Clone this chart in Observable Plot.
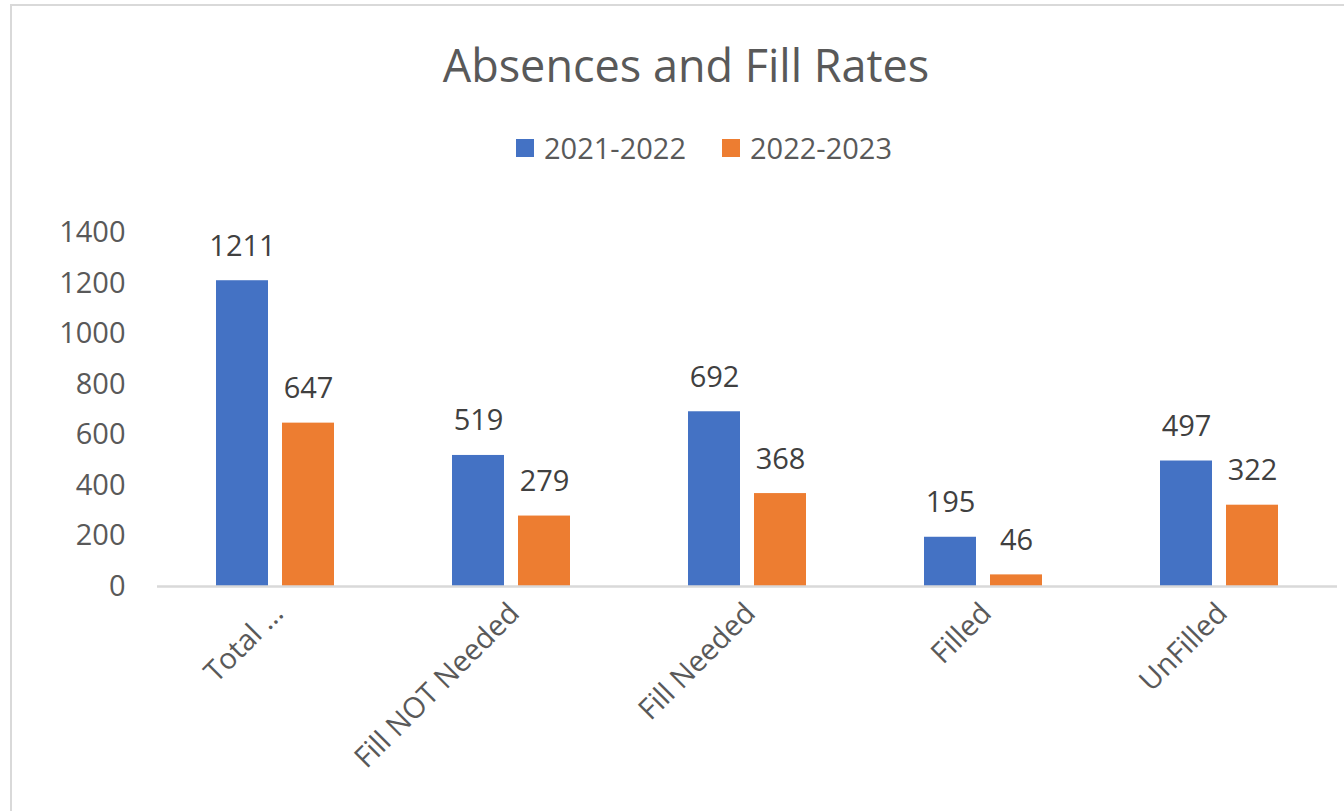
<!DOCTYPE html>
<html>
<head>
<meta charset="utf-8">
<script src="https://cdn.jsdelivr.net/npm/d3@7"></script>
<script src="https://cdn.jsdelivr.net/npm/@observablehq/plot@0.6"></script>
<style>
  html, body { margin: 0; padding: 0; background: #fff; width: 1344px; height: 811px; overflow: hidden; position: relative; font-family: "Open Sans", sans-serif; }
  #frame { position: absolute; left: 10px; top: 4px; width: 1400px; height: 900px; border-top: 2px solid #d9d9d9; border-left: 2px solid #d9d9d9; box-sizing: border-box; }
  #title { position: absolute; left: 0; width: 1372px; top: 42px; text-align: center; font-size: 45px; line-height: 45px; color: #595959; }
  #legend { position: absolute; left: 516px; top: 133px; display: flex; align-items: center; font-size: 29px; line-height: 29px; color: #595959; }
  .sw { width: 18px; height: 18px; display: inline-block; margin-right: 10px; }
  .item { display: flex; align-items: center; margin-right: 36px; }
  #chart { position: absolute; left: 0; top: 180px; }
</style>
</head>
<body>
<div id="frame"></div>
<div id="title">Absences and Fill Rates</div>
<div id="legend"></div>
<div id="chart"></div>
<script>
const categories = ["Total …", "Fill NOT Needed", "Fill Needed", "Filled", "UnFilled"];
const seriesNames = ["2021-2022", "2022-2023"];
const values2122 = [1211, 519, 692, 195, 497];
const values2223 = [647, 279, 368, 46, 322];
const seriesColors = ["#4472C4", "#ED7D31"];
const yTicks = [0, 200, 400, 600, 800, 1000, 1200, 1400];

const data = [];
categories.forEach((c, i) => {
  data.push({category: c, series: seriesNames[0], value: values2122[i]});
  data.push({category: c, series: seriesNames[1], value: values2223[i]});
});

// Legend
const legend = document.getElementById("legend");
seriesNames.forEach((s, i) => {
  const item = document.createElement("div");
  item.className = "item";
  const sw = document.createElement("span");
  sw.className = "sw";
  sw.style.background = seriesColors[i];
  item.appendChild(sw);
  item.appendChild(document.createTextNode(s));
  legend.appendChild(item);
});

const chart = Plot.plot({
  width: 1344,
  height: 631,
  marginTop: 52.5,
  marginBottom: 225,
  marginLeft: 155,
  marginRight: 6,
  style: {fontFamily: "Open Sans, sans-serif", color: "#595959", background: "transparent", overflow: "visible"},
  fx: {domain: categories, paddingInner: 0, paddingOuter: 0, label: null, axis: null},
  x: {domain: seriesNames, paddingInner: 0.209, paddingOuter: 0.87, axis: null},
  y: {domain: [0, 1400], label: null, axis: null},
  color: {domain: seriesNames, range: seriesColors},
  marks: [
    Plot.axisY({ticks: yTicks, tickFormat: d => String(d), tickSize: 0, tickPadding: 32, fontSize: 29, label: null, fill: "#595959"}),
    Plot.axisFx({anchor: "bottom", tickRotate: -45, tickSize: 0, tickPadding: 22, dx: 3, fontSize: 29, label: null, fill: "#595959"}),
    Plot.barY(data, {fx: "category", x: "series", y: "value", fill: "series"}),
    Plot.ruleY([0], {stroke: "#d9d9d9", strokeWidth: 2.5}),
    Plot.text(data, {fx: "category", x: "series", y: "value", text: d => String(d.value), dy: -25, lineAnchor: "bottom", fontSize: 29, fill: "#404040"})
  ]
});
document.getElementById("chart").appendChild(chart);
</script>
</body>
</html>
